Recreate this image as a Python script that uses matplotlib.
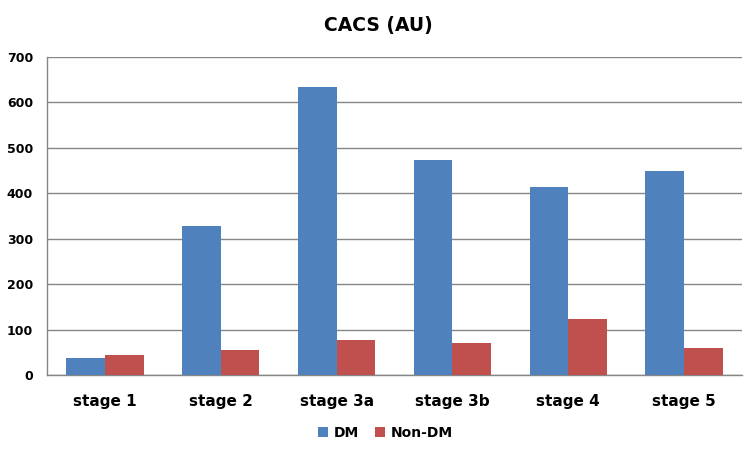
import matplotlib
matplotlib.use("Agg")
import matplotlib.pyplot as plt
import numpy as np

categories = ["stage 1", "stage 2", "stage 3a", "stage 3b", "stage 4", "stage 5"]
dm = [38, 327, 633, 473, 413, 448]
non_dm = [45, 56, 78, 71, 124, 60]
yticks = [0, 100, 200, 300, 400, 500, 600, 700]

blue = "#4F81BD"
red = "#C0504D"
grid_col = "#868686"

fig = plt.figure(figsize=(7.56, 4.55), dpi=100)
ax = fig.add_axes([0.0622, 0.1758, 0.9193, 0.6989])

x = np.arange(len(categories))
w = 1 / 3
ax.bar(x - w / 2, dm, width=w, color=blue, label="DM", zorder=3)
ax.bar(x + w / 2, non_dm, width=w, color=red, label="Non-DM", zorder=3)

ax.set_xlim(-0.5, len(categories) - 0.5)
ax.set_ylim(0, 700)
ax.set_yticks(yticks)
ax.set_yticklabels([str(t) for t in yticks], fontsize=9, fontweight="bold")
ax.set_xticks(x)
ax.set_xticklabels(categories, fontsize=11, fontweight="bold")
ax.yaxis.grid(True, color=grid_col, linewidth=1, zorder=0)
ax.tick_params(axis="both", length=0)
ax.tick_params(axis="x", pad=14)
ax.tick_params(axis="y", pad=10)

for s in ["top", "right"]:
    ax.spines[s].set_visible(False)
for s in ["left", "bottom"]:
    ax.spines[s].set_color(grid_col)
    ax.spines[s].set_linewidth(1)

fig.text(0.5, 0.945, "CACS (AU)", ha="center", va="center", fontsize=13.5, fontweight="bold")

fig.legend(loc="center", bbox_to_anchor=(0.51, 0.048), ncol=2, frameon=False,
           prop={"size": 10, "weight": "bold"}, handlelength=0.7, handleheight=0.7,
           handletextpad=0.4, columnspacing=1.2)

fig.savefig("out.png", dpi=100)
